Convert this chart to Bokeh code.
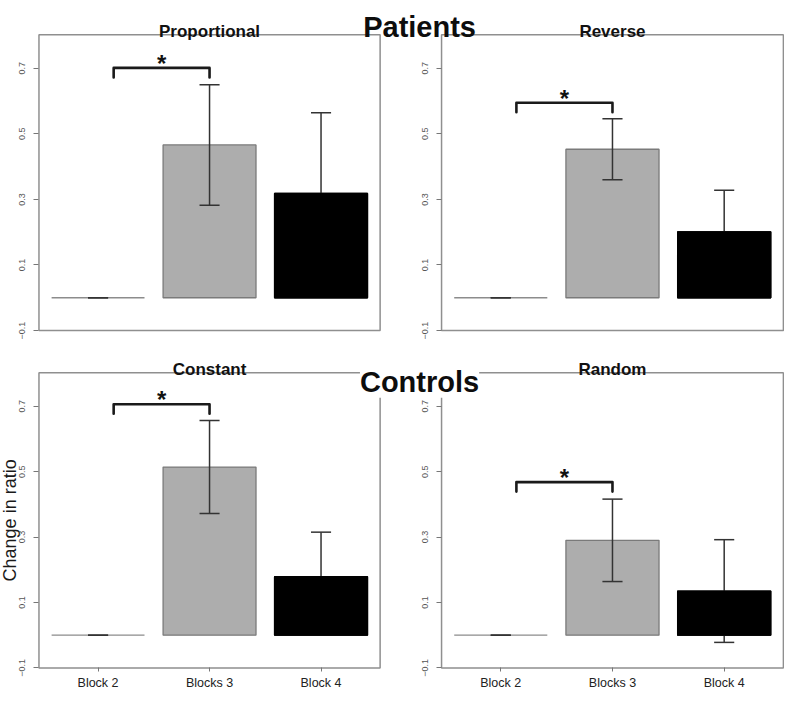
import math
from bokeh.plotting import figure
from bokeh.models import Range1d, LinearAxis, FixedTicker, ColumnDataSource, Label
from bokeh.core.properties import value
from bokeh.embed import file_html
from bokeh.resources import INLINE

# ---------------- data ----------------
categories = ["Block 2", "Blocks 3", "Block 4"]
panel_titles = ["Proportional", "Reverse", "Constant", "Random"]
group_titles = ["Patients", "Controls"]
y_ticks = [-0.1, 0.1, 0.3, 0.5, 0.7]
y_label = "Change in ratio"

proportional_mean = [0.0, 0.466, 0.318]
proportional_err = [0.0, 0.184, 0.246]
reverse_mean = [0.0, 0.453, 0.201]
reverse_err = [0.0, 0.093, 0.127]
constant_mean = [0.0, 0.514, 0.179]
constant_err = [0.0, 0.142, 0.136]
random_mean = [0.0, 0.290, 0.135]
random_err = [0.0, 0.126, 0.157]

# height of the significance bracket (Block 2 vs Blocks 3) in each panel
bracket_y = [0.701, 0.595, 0.706, 0.468]

means = [proportional_mean, reverse_mean, constant_mean, random_mean]
errs = [proportional_err, reverse_err, constant_err, random_err]

# ---------------- layout ----------------
W, H = 784, 692
FONT = "Liberation Sans"


def cx(X):
    return 1 + (X - 3) * 0.986


def cy(Y):
    return 5 + (Y - 8) * 0.977


boxes_ref = [
    (41, 38, 387, 340.7),
    (449.3, 38, 796, 340.7),
    (41, 384, 387, 686),
    (449.3, 384, 796, 686),
]
X0, X1 = 0.47, 3.53
Y0, Y1 = -0.1, 0.802
BAR_W = 1 / 1.2
CAP = 0.09
BRACKET_LEFT = 1.14
LEG = 0.029

bar_fill = ["white", "#adadad", "black"]
bar_line = ["#8c8c8c", "#7a7a7a", "black"]

p = figure(width=W, height=H, x_range=Range1d(0, W), y_range=Range1d(0, H),
           x_axis_type=None, y_axis_type=None, min_border=0, title=None,
           toolbar_location=None, output_backend="svg")
p.outline_line_color = None
p.background_fill_color = "white"
p.border_fill_color = "white"

xrs, yrs = {}, {}
names = []
for i, (a, b, c, d) in enumerate(boxes_ref):
    bx0, by0, bx1, by1 = cx(a), cy(b), cx(c), cy(d)
    sx = (bx1 - bx0) / (X1 - X0)
    sy = (by1 - by0) / (Y1 - Y0)
    name = "panel%d" % i
    names.append(name)
    xrs[name] = Range1d(X0 - bx0 / sx, X1 + (W - bx1) / sx)
    yrs[name] = Range1d(Y0 - (H - by1) / sy, Y1 + by0 / sy)
p.extra_x_ranges = xrs
p.extra_y_ranges = yrs

xs = [1, 2, 3]
for i, name in enumerate(names):
    kw = dict(x_range_name=name, y_range_name=name)
    m, e = means[i], errs[i]
    src = ColumnDataSource(dict(
        x=xs, top=m,
        lo=[v - s for v, s in zip(m, e)],
        hi=[v + s for v, s in zip(m, e)],
        xl=[x - CAP for x in xs], xr=[x + CAP for x in xs],
        fill=bar_fill, line=bar_line,
    ))
    dark = ColumnDataSource(dict(x=[xs[2]], top=[m[2]]))
    # panel box
    p.quad(left=[X0], right=[X1], bottom=[Y0], top=[Y1], fill_color=None,
           line_color="#8f8f8f", line_width=1.5, **kw)
    # bars
    p.vbar(x="x", top="top", bottom=0, width=BAR_W, fill_color="fill",
           line_color="line", line_width=1.3, source=src, **kw)
    # error bars
    p.segment(x0="x", y0="lo", x1="x", y1="hi", line_color="#333333",
              line_width=1.5, source=src, **kw)
    p.segment(x0="xl", y0="hi", x1="xr", y1="hi", line_color="#333333",
              line_width=1.5, source=src, **kw)
    p.segment(x0="xl", y0="lo", x1="xr", y1="lo", line_color="#333333",
              line_width=1.5, source=src, **kw)
    # black bar hides the part of its error bar that lies inside it
    p.vbar(x="x", top="top", bottom=0, width=BAR_W, fill_color="black",
           line_color="black", line_width=1.3, source=dark, **kw)
    # significance bracket
    by = bracket_y[i]
    p.line(x=[BRACKET_LEFT, BRACKET_LEFT, xs[1], xs[1]],
           y=[by - LEG, by, by, by - LEG], line_color="#1a1a1a",
           line_width=2.6, line_join="round", line_cap="round", **kw)
    p.text(x=[(BRACKET_LEFT + xs[1]) / 2], y=[by], text=["*"],
           text_font=value(FONT), text_font_style="bold",
           text_font_size="24px", text_align="center",
           text_baseline="middle", y_offset=-4.5, text_color="#111111", **kw)
    # panel title
    p.text(x=[(X0 + X1) / 2], y=[Y1], text=[panel_titles[i]],
           text_font=value(FONT), text_font_style="bold",
           text_font_size="17px", text_align="center",
           text_baseline="alphabetic", y_offset=-3.5, text_color="#111111", **kw)

    # y axis
    yax = LinearAxis(x_range_name=name, y_range_name=name, fixed_location=X0,
                     ticker=FixedTicker(ticks=y_ticks), bounds=(-0.1, 0.7))
    yax.axis_line_color = None
    yax.major_tick_line_color = "#777777"
    yax.major_tick_out = 5
    yax.major_tick_in = 0
    yax.minor_tick_line_color = None
    yax.major_label_orientation = "vertical"
    yax.major_label_text_font = FONT
    yax.major_label_text_font_size = "9px"
    yax.major_label_text_color = "#555555"
    yax.major_label_standoff = 9
    p.add_layout(yax, "left")

    if i >= 2:
        xax = LinearAxis(x_range_name=name, y_range_name=name, fixed_location=Y0,
                         ticker=FixedTicker(ticks=xs),
                         major_label_overrides={x: c for x, c in zip(xs, categories)})
        xax.axis_line_color = None
        xax.major_tick_line_color = "#777777"
        xax.major_tick_out = 4
        xax.major_tick_in = 0
        xax.minor_tick_line_color = None
        xax.major_label_text_font = FONT
        xax.major_label_text_font_size = "12.5px"
        xax.major_label_text_color = "#222222"
        xax.major_label_standoff = 4
        p.add_layout(xax, "below")

# y axis label (bottom-left panel)
bx_left = cx(boxes_ref[2][0])
p.text(x=[X0], y=[(Y0 + Y1) / 2], text=[y_label], text_font=value(FONT),
       text_font_size="18px", text_align="center", text_baseline="middle",
       angle=math.pi / 2, x_offset=-(bx_left - cx(12)), text_color="#1a1a1a",
       x_range_name=names[2], y_range_name=names[2])

# group titles
p.add_layout(Label(x=cx(427), y=H - cy(30), text=group_titles[0],
                   text_font=FONT, text_font_style="bold", text_font_size="29px",
                   text_align="center", text_baseline="alphabetic",
                   text_color="#0d0d0d"))
p.add_layout(Label(x=cx(427), y=H - cy(393), text=group_titles[1],
                   text_font=FONT, text_font_style="bold", text_font_size="29px",
                   text_align="center", text_baseline="alphabetic",
                   text_color="#0d0d0d", background_fill_color="white"))

open("out.html", "w").write(file_html(p, INLINE))
